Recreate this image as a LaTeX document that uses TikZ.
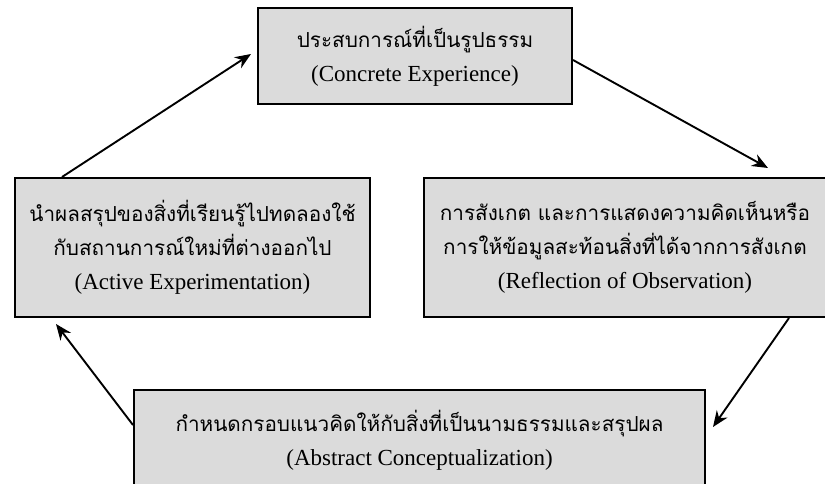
\documentclass[tikz,border=0pt]{standalone}
\usepackage{fontspec}
\setmainfont{Liberation Serif}
\newfontfamily\thaifont[Script=Thai, Scale=0.9]{Loma}
\usetikzlibrary{arrows.meta}

\begin{document}
\begin{tikzpicture}[
                x = 1pt, y = -1pt,
                box/.style = {draw, line width = 2pt, fill = black!14, align = center, inner sep = 0mm,
                              font = \fontsize{23}{34}\selectfont},
                arr/.style = {draw, line width = 1.9pt, -{Stealth[length = 16pt, width = 13pt]}},
            ]
            \useasboundingbox (0, 0) rectangle (825, 484);
            \clip (0, 0) rectangle (825, 484);

            \node (CE) at (415, 56) [box, minimum width = 314pt, minimum height = 96pt]
                {{\thaifont ประสบการณ์ที่เป็นรูปธรรม}\\(Concrete Experience)};
            \node (AE) at (192.5, 247.5) [box, minimum width = 355pt, minimum height = 139pt]
                {{\thaifont นำผลสรุปของสิ่งที่เรียนรู้ไปทดลองใช้}\\{\thaifont กับสถานการณ์ใหม่ที่ต่างออกไป}\\(Active Experimentation)};
            \node (RO) at (625, 247.5) [box, minimum width = 402pt, minimum height = 139pt]
                {{\thaifont การสังเกต และการแสดงความคิดเห็นหรือ}\\{\thaifont การให้ข้อมูลสะท้อนสิ่งที่ได้จากการสังเกต}\\(Reflection of Observation)};
            \node (AC) at (419.5, 440) [box, minimum width = 571pt, minimum height = 100pt]
                {{\thaifont กำหนดกรอบแนวคิดให้กับสิ่งที่เป็นนามธรรมและสรุปผล}\\(Abstract Conceptualization)};

            \path[arr] ([xshift = 48pt] AE.north west) -- ([xshift = -6pt, yshift = 2pt] CE.west);
            \path[arr] ([yshift = -4pt] CE.east) -- ([xshift = 143pt, yshift = 9pt] RO.north);
            \path[arr] ([xshift = 164pt] RO.south) -- ([xshift = 7pt, yshift = 13pt] AC.east);
            \path[arr] ([yshift = 15pt] AC.west) -- ([xshift = 42pt, yshift = -6pt] AE.south west);
        \end{tikzpicture}
\end{document}
